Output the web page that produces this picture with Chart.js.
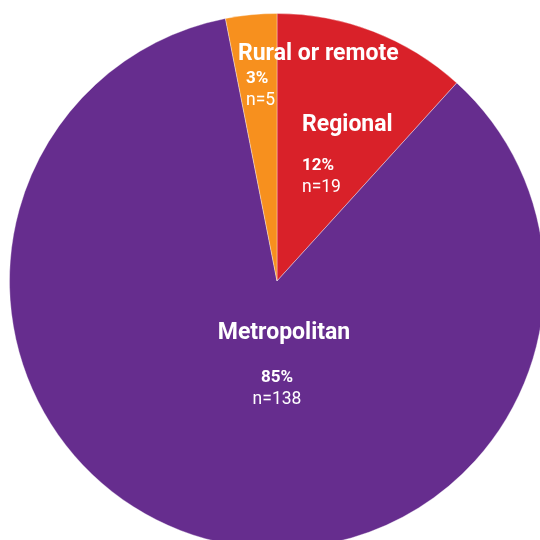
<!DOCTYPE html>
<html>
<head>
<meta charset="utf-8">
<script src="https://cdn.jsdelivr.net/npm/chart.js@4/dist/chart.umd.min.js"></script>
<style>
  html, body { margin: 0; padding: 0; background: #fff; overflow: hidden; }
  #wrap { position: absolute; left: 9px; top: 13px; width: 536px; height: 536px; }
</style>
</head>
<body>
<div id="wrap"><canvas id="myChart"></canvas></div>
<script>
// location breakdown
var categories = ['Regional', 'Metropolitan', 'Rural or remote'];
var counts = [19, 138, 5];
var percents = ['12%', '85%', '3%'];
var colours = ['#d92129', '#662d8e', '#f7901e'];

// where each label block sits (pixels from the pie centre) and how it's aligned
var labelSpots = [
  { dx: 25, dy: -156, align: 'left', subDx: 0, gap: 41 },
  { dx: 7, dy: 52, align: 'center', subDx: -7, gap: 45 },
  { dx: -39, dy: -227, align: 'left', subDx: 8, gap: 25 }
];

var labelPlugin = {
  id: 'sliceLabels',
  afterDatasetsDraw: function (chart) {
    var ctx = chart.ctx;
    var arc = chart.getDatasetMeta(0).data[0];
    var cx = arc.x, cy = arc.y;
    ctx.save();
    ctx.fillStyle = '#fff';
    ctx.textBaseline = 'middle';
    for (var i = 0; i < categories.length; i++) {
      var s = labelSpots[i];
      var x = cx + s.dx, y = cy + s.dy;
      ctx.textAlign = s.align;
      ctx.font = 'bold 23px Roboto';
      ctx.fillText(categories[i], x, y);
      ctx.font = 'bold 17px Roboto';
      ctx.fillText(percents[i], x + s.subDx, y + s.gap);
      ctx.font = '17.5px Roboto';
      ctx.fillText('n=' + counts[i], x + s.subDx, y + s.gap + 22);
    }
    ctx.restore();
  }
};

const myChart = new Chart(document.getElementById('myChart'), {
  type: 'pie',
  data: {
    labels: categories,
    datasets: [{
      data: counts,
      backgroundColor: colours,
      borderColor: 'rgba(255,255,255,0.35)',
      borderWidth: 1
    }]
  },
  options: {
    responsive: true,
    maintainAspectRatio: false,
    animation: false,
    layout: { padding: 0 },
    plugins: {
      legend: { display: false },
      tooltip: { enabled: false }
    }
  },
  plugins: [labelPlugin]
});
</script>
</body>
</html>
